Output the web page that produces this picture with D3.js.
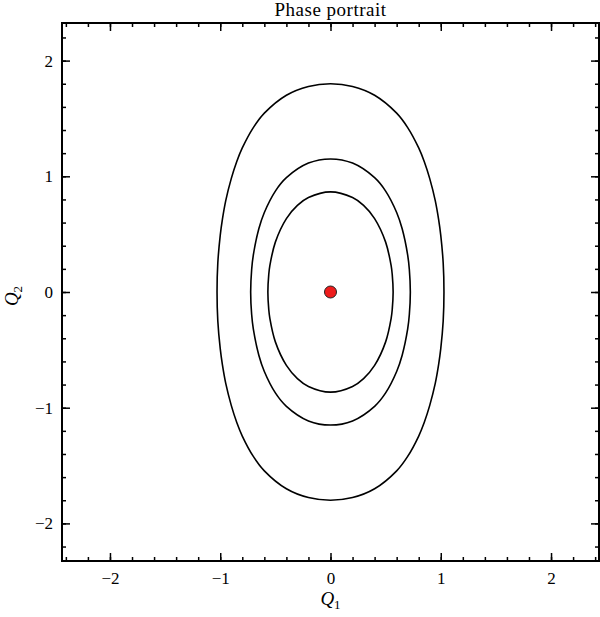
<!DOCTYPE html>
<html>
<head>
<meta charset="utf-8">
<script src="https://cdn.jsdelivr.net/npm/d3@7"></script>
<style>
    body { margin: 0; background: #fff; }
    svg text { font-family: "Liberation Serif", "DejaVu Serif", serif; fill: #000; }
</style>
</head>
<body>
<svg id="chart" width="600" height="617"></svg>
<script>
var title = "Phase portrait";
var xDomain = [-2.435, 2.435];
var yDomain = [-2.325, 2.325];
var majorTicks = [-2, -1, 0, 1, 2];

// level curves, [Q1, Q2] going round each loop
var outerCurve = [
    [1.029, 0], [1.022, 0.25], [1.0, 0.49], [0.98, 0.63], [0.95, 0.79], [0.9, 0.98], [0.85, 1.128],
    [0.8, 1.245], [0.7, 1.421], [0.6, 1.546], [0.4, 1.701], [0.2, 1.777], [0, 1.8], [-0.2, 1.777],
    [-0.4, 1.701], [-0.6, 1.546], [-0.7, 1.421], [-0.8, 1.245], [-0.85, 1.128], [-0.9, 0.98],
    [-0.95, 0.79], [-0.98, 0.63], [-1.0, 0.49], [-1.022, 0.25],
    [-1.029, 0], [-1.022, -0.25], [-1.0, -0.49], [-0.98, -0.63], [-0.95, -0.79], [-0.9, -0.98],
    [-0.85, -1.128], [-0.8, -1.245], [-0.7, -1.421], [-0.6, -1.546], [-0.4, -1.701], [-0.2, -1.777],
    [0, -1.8], [0.2, -1.777], [0.4, -1.701], [0.6, -1.546], [0.7, -1.421], [0.8, -1.245],
    [0.85, -1.128], [0.9, -0.98], [0.95, -0.79], [0.98, -0.63], [1.0, -0.49], [1.022, -0.25]
];
var middleCurve = [
    [0.724, 0], [0.715, 0.195], [0.7, 0.319], [0.65, 0.546], [0.6, 0.687], [0.5, 0.872], [0.4, 0.988],
    [0.2, 1.114], [0, 1.15], [-0.2, 1.114], [-0.4, 0.988], [-0.5, 0.872], [-0.6, 0.687], [-0.65, 0.546],
    [-0.7, 0.319], [-0.715, 0.195], [-0.724, 0], [-0.715, -0.195], [-0.7, -0.319], [-0.65, -0.546],
    [-0.6, -0.687], [-0.5, -0.872], [-0.4, -0.988], [-0.2, -1.114], [0, -1.15], [0.2, -1.114],
    [0.4, -0.988], [0.5, -0.872], [0.6, -0.687], [0.65, -0.546], [0.7, -0.319], [0.715, -0.195]
];
var innerCurve = [
    [0.568, 0], [0.56, 0.15], [0.55, 0.228], [0.5, 0.431], [0.4, 0.634], [0.3, 0.748], [0.2, 0.816],
    [0, 0.865], [-0.2, 0.816], [-0.3, 0.748], [-0.4, 0.634], [-0.5, 0.431], [-0.55, 0.228], [-0.56, 0.15],
    [-0.568, 0], [-0.56, -0.15], [-0.55, -0.228], [-0.5, -0.431], [-0.4, -0.634], [-0.3, -0.748],
    [-0.2, -0.816], [0, -0.865], [0.2, -0.816], [0.3, -0.748], [0.4, -0.634], [0.5, -0.431],
    [0.55, -0.228], [0.56, -0.15]
];
var fixedPoints = [[0, 0]];

var margin = {top: 23, right: 1, bottom: 56, left: 62},
    width = 600 - margin.left - margin.right,
    height = 617 - margin.top - margin.bottom;

var svg = d3.select("#chart");
var plot = svg.append("g")
    .attr("transform", "translate(" + margin.left + "," + margin.top + ")");

var x = d3.scaleLinear().domain(xDomain).range([0, width]);
var y = d3.scaleLinear().domain(yDomain).range([height, 0]);
var fmt = d3.format("d");

var xMinor = d3.range(-24, 25, 2).map(function (d) { return d / 10; });
var yMinor = d3.range(-22, 23, 2).map(function (d) { return d / 10; });

function styleAxis(g) {
    g.select(".domain").remove();
    g.selectAll(".tick line").attr("stroke", "#000").attr("stroke-width", 1.5);
    g.selectAll(".tick text").attr("font-size", 17);
}

// minor ticks, all four sides, pointing inward
plot.append("g").attr("transform", "translate(0," + height + ")")
    .call(d3.axisBottom(x).tickValues(xMinor).tickSize(-4).tickFormat(""))
    .call(styleAxis);
plot.append("g")
    .call(d3.axisTop(x).tickValues(xMinor).tickSize(-4).tickFormat(""))
    .call(styleAxis);
plot.append("g")
    .call(d3.axisLeft(y).tickValues(yMinor).tickSize(-4).tickFormat(""))
    .call(styleAxis);
plot.append("g").attr("transform", "translate(" + width + ",0)")
    .call(d3.axisRight(y).tickValues(yMinor).tickSize(-4).tickFormat(""))
    .call(styleAxis);

// major ticks with labels
plot.append("g").attr("transform", "translate(0," + height + ")")
    .call(d3.axisBottom(x).tickValues(majorTicks).tickSize(-8).tickPadding(11).tickFormat(fmt))
    .call(styleAxis);
plot.append("g")
    .call(d3.axisTop(x).tickValues(majorTicks).tickSize(-8).tickFormat(""))
    .call(styleAxis);
plot.append("g")
    .call(d3.axisLeft(y).tickValues(majorTicks).tickSize(-8).tickPadding(9).tickFormat(fmt))
    .call(styleAxis);
plot.append("g").attr("transform", "translate(" + width + ",0)")
    .call(d3.axisRight(y).tickValues(majorTicks).tickSize(-8).tickFormat(""))
    .call(styleAxis);

plot.append("rect")
    .attr("width", width)
    .attr("height", height)
    .attr("fill", "none")
    .attr("stroke", "#000")
    .attr("stroke-width", 2);

var line = d3.line()
    .x(function (d) { return x(d[0]); })
    .y(function (d) { return y(d[1]); })
    .curve(d3.curveCatmullRomClosed.alpha(0.5));

plot.append("g")
    .selectAll("path")
    .data([outerCurve, middleCurve, innerCurve])
    .enter().append("path")
    .attr("d", line)
    .attr("fill", "none")
    .attr("stroke", "#000")
    .attr("stroke-width", 1.6);

plot.append("g")
    .selectAll("circle")
    .data(fixedPoints)
    .enter().append("circle")
    .attr("cx", function (d) { return x(d[0]); })
    .attr("cy", function (d) { return y(d[1]); })
    .attr("r", 6)
    .attr("fill", "#ee1c1c")
    .attr("stroke", "#222")
    .attr("stroke-width", 1);

svg.append("text")
    .attr("x", margin.left + width / 2)
    .attr("y", 16)
    .attr("text-anchor", "middle")
    .attr("font-size", 19)
    .attr("letter-spacing", 0.5)
    .text(title);

var xLabel = svg.append("text")
    .attr("x", margin.left + width / 2)
    .attr("y", 605)
    .attr("text-anchor", "middle")
    .attr("font-size", 19);
xLabel.append("tspan").attr("font-style", "italic").text("Q");
xLabel.append("tspan").attr("font-size", 13).attr("dy", 4).text("1");

var yLabel = svg.append("text")
    .attr("transform", "translate(18," + (margin.top + height / 2 + 4) + ") rotate(-90)")
    .attr("text-anchor", "middle")
    .attr("font-size", 19);
yLabel.append("tspan").attr("font-style", "italic").text("Q");
yLabel.append("tspan").attr("font-size", 13).attr("dy", 4).text("2");
</script>
</body>
</html>
